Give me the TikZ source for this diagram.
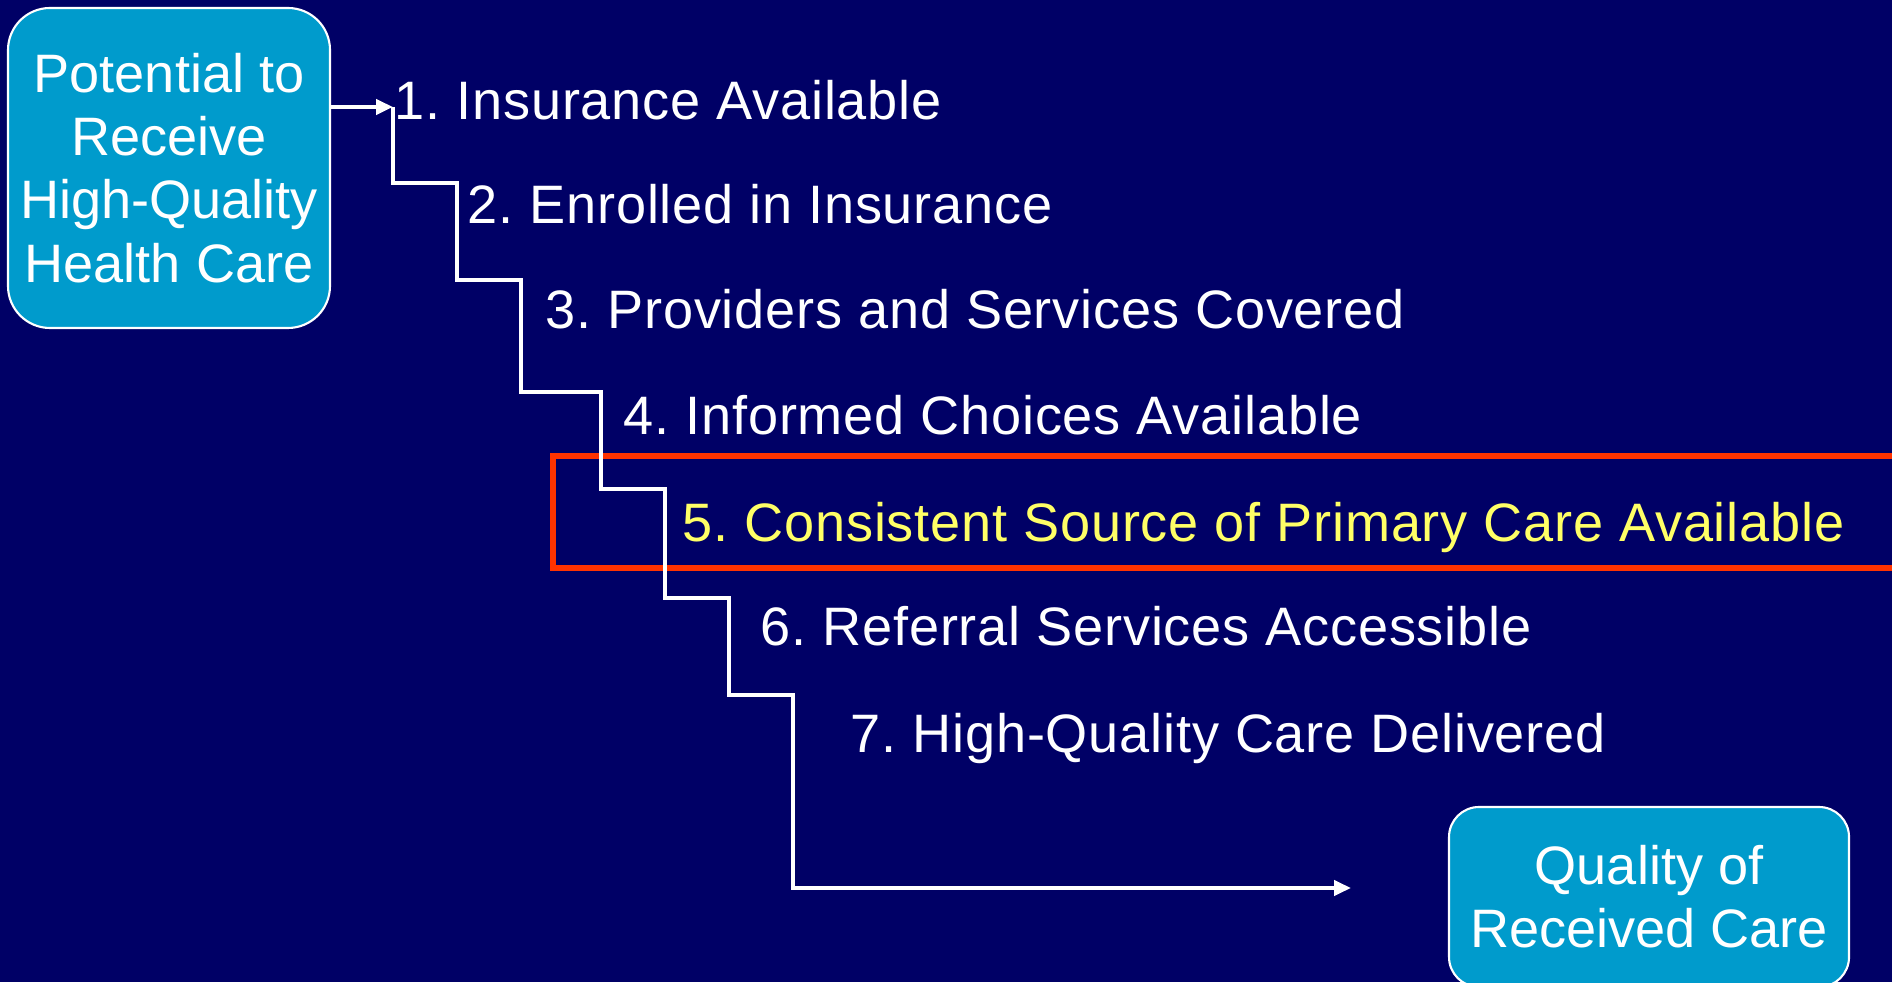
\documentclass[tikz,border=0pt]{standalone}
\usepackage{fontspec}
\setmainfont{Liberation Sans}
\usepackage{tikz}
\usetikzlibrary{arrows.meta}

\definecolor{slidebg}{RGB}{0,0,102}
\definecolor{boxblue}{RGB}{0,155,204}
\definecolor{hiyellow}{RGB}{255,255,102}
\definecolor{hired}{RGB}{255,51,0}

\frenchspacing

\begin{document}
\begin{tikzpicture}[every node/.style={font=\fontsize{15.4}{18}\selectfont}]

% Define styles
\tikzstyle{rbox} = [draw=white, line width=0.6pt, fill=boxblue, text=white, align=center, inner sep=0pt]
\tikzstyle{item} = [anchor=base west, text=white, inner sep=0pt, font=\fontsize{15.4}{18}\selectfont\addfontfeatures{LetterSpace=1.5}]
\tikzstyle{stair} = [draw=white, line width=1.15pt]
\tikzstyle{flowtip} = [-{Triangle[length=0.17cm,width=0.15cm]}]
\tikzstyle{hilite} = [draw=hired, line width=1.7pt]

% Background
\useasboundingbox (0,0) rectangle (18.92,9.82);
\fill[slidebg] (0,0) rectangle (18.92,9.82);

% Start and end boxes
\node[rbox, rounded corners=0.42cm, minimum width=3.22cm, minimum height=3.2cm] (potential) at (1.69,8.14) {Potential to\\Receive\\High-Quality\\Health Care};
\node[rbox, rounded corners=0.3cm, minimum width=4.0cm, minimum height=1.8cm] (quality) at (16.49,0.85) {Quality of\\Received Care};

% Steps
\node[item] (ins) at (3.94,8.62) {1. Insurance Available};
\node[item] (enr) at (4.67,7.58) {2. Enrolled in Insurance};
\node[item] (prov) at (5.45,6.53) {3. Providers and Services Covered};
\node[item] (inf) at (6.23,5.47) {4. Informed Choices Available};
\node[item, text=hiyellow] (src) at (6.82,4.40) {5. Consistent Source of Primary Care Available};
\node[item] (ref) at (7.60,3.36) {6. Referral Services Accessible};
\node[item] (deliv) at (8.50,2.29) {7. High-Quality Care Delivered};

% Highlight for step 5
\draw[hilite] (5.53,5.26) rectangle (19.1,4.14);

% Staircase
\coordinate (s0) at (3.93,8.75);
\coordinate (s7) at (13.51,0.94);
\draw[stair, flowtip] (potential.east |- s0) -- (s0);
\draw[stair, flowtip] (s0) -- (3.93,7.99) -- (4.57,7.99)
  -- (4.57,7.02) -- (5.21,7.02)
  -- (5.21,5.90) -- (6.01,5.90)
  -- (6.01,4.93) -- (6.65,4.93)
  -- (6.65,3.84) -- (7.29,3.84)
  -- (7.29,2.87) -- (7.93,2.87)
  -- (7.93,0.94) -- (s7);

\end{tikzpicture}
\end{document}
